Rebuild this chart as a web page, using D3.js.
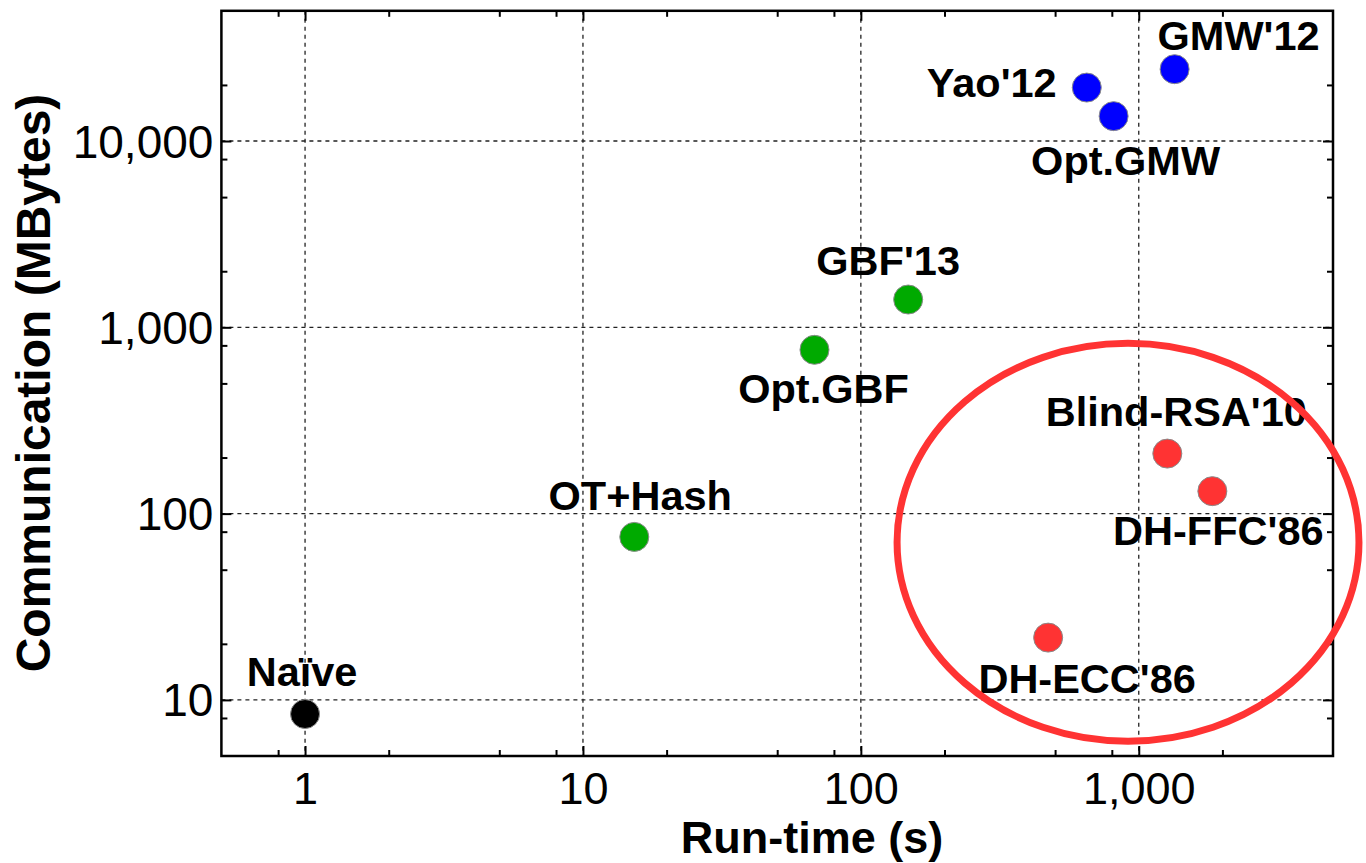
<!DOCTYPE html>
<html>
<head>
<meta charset="utf-8">
<script src="https://cdn.jsdelivr.net/npm/d3@7/dist/d3.min.js"></script>
<style>
  html, body { margin: 0; padding: 0; background: #fff; }
  svg { display: block; }
  text { font-family: "Liberation Sans", Arial, Helvetica, sans-serif; fill: #000; }
</style>
</head>
<body>
<svg id="chart" width="1366" height="863"></svg>
<script>
// ---------------- data ----------------
const names    = ["Naïve", "OT+Hash", "Opt.GBF", "GBF'13", "Yao'12", "Opt.GMW", "GMW'12", "Blind-RSA'10", "DH-FFC'86", "DH-ECC'86"];
const runTime  = [1, 15.3, 68.1, 148, 650, 812, 1346, 1267, 1840, 472];          // seconds
const commMB   = [8.4, 75, 757, 1410, 19360, 13600, 24300, 210, 132, 21.6];     // MBytes
const groups   = ["base", "green", "green", "green", "blue", "blue", "blue", "red", "red", "red"];
const xTicks   = [1, 10, 100, 1000];
const yTicks   = [10, 100, 1000, 10000];
const xDomain  = [0.5, 5000];
const yDomain  = [5, 50000];
// highlighted region (data-space bounds of the red ellipse)
const regionX  = [135, 6200];
const regionY  = [6, 820];

// ---------------- layout / style ----------------
const colors = { base: "#000000", green: "#00aa00", blue: "#0000ff", red: "#ff3333" };
// label offsets relative to each point (pixels), text-anchor middle
const labelOffsets = [[-3, -28], [6, -27], [9, 53], [-20, -25], [-95, 9], [12, 59], [64, -19], [9, -28], [6, 54], [39, 55]];
const plot = { left: 221.4, right: 1333, top: 10.8, bottom: 756 };

const svg = d3.select("#chart");
const x = d3.scaleLog().domain(xDomain).range([plot.left, plot.right]);
const y = d3.scaleLog().domain(yDomain).range([plot.bottom, plot.top]);
const fmt = d3.format(",");

// minor ticks at 2,5,8 of each decade
function minorTicks(domain) {
  const out = [];
  for (let e = -2; e <= 6; e++) {
    [2, 5, 8].forEach(m => {
      const v = m * Math.pow(10, e);
      if (v > domain[0] * 1.0001 && v < domain[1] * 0.9999) out.push(v);
    });
  }
  return out;
}

// grid
const grid = svg.append("g").attr("stroke", "#222").attr("stroke-width", 1.3).attr("stroke-dasharray", "4,4");
grid.selectAll(".gx").data(xTicks).join("line")
  .attr("x1", d => x(d)).attr("x2", d => x(d)).attr("y1", plot.top).attr("y2", plot.bottom);
grid.selectAll(".gy").data(yTicks).join("line")
  .attr("y1", d => y(d)).attr("y2", d => y(d)).attr("x1", plot.left).attr("x2", plot.right);

// axes (ticks inward, mirrored)
const tickStyle = g => g.call(s => s.select(".domain").remove())
  .call(s => s.selectAll(".tick line").attr("stroke", "#000").attr("stroke-width", 2));

svg.append("g").attr("transform", `translate(0,${plot.bottom})`)
  .call(d3.axisBottom(x).tickValues(xTicks).tickSize(-10).tickFormat(fmt))
  .call(tickStyle)
  .call(g => g.selectAll("text").attr("font-size", 45).attr("dy", 0).attr("y", 48).attr("fill", "#000"));
svg.append("g").attr("transform", `translate(0,${plot.bottom})`)
  .call(d3.axisBottom(x).tickValues(minorTicks(xDomain)).tickSize(-6).tickFormat(""))
  .call(tickStyle);
svg.append("g").attr("transform", `translate(0,${plot.top})`)
  .call(d3.axisTop(x).tickValues(xTicks).tickSize(-10).tickFormat(""))
  .call(tickStyle);
svg.append("g").attr("transform", `translate(0,${plot.top})`)
  .call(d3.axisTop(x).tickValues(minorTicks(xDomain)).tickSize(-6).tickFormat(""))
  .call(tickStyle);

svg.append("g").attr("transform", `translate(${plot.left},0)`)
  .call(d3.axisLeft(y).tickValues(yTicks).tickSize(-10).tickFormat(fmt))
  .call(tickStyle)
  .call(g => g.selectAll("text").attr("font-size", 46).attr("x", -8).attr("dy", 0).attr("y", 16).attr("fill", "#000"));
svg.append("g").attr("transform", `translate(${plot.left},0)`)
  .call(d3.axisLeft(y).tickValues(minorTicks(yDomain)).tickSize(-6).tickFormat(""))
  .call(tickStyle);
svg.append("g").attr("transform", `translate(${plot.right},0)`)
  .call(d3.axisRight(y).tickValues(yTicks).tickSize(-10).tickFormat(""))
  .call(tickStyle);
svg.append("g").attr("transform", `translate(${plot.right},0)`)
  .call(d3.axisRight(y).tickValues(minorTicks(yDomain)).tickSize(-6).tickFormat(""))
  .call(tickStyle);

// frame
svg.append("rect")
  .attr("x", plot.left).attr("y", plot.top)
  .attr("width", plot.right - plot.left).attr("height", plot.bottom - plot.top)
  .attr("fill", "none").attr("stroke", "#000").attr("stroke-width", 2.5);

// points
const data = names.map((n, i) => ({ name: n, rt: runTime[i], mb: commMB[i], g: groups[i], off: labelOffsets[i] }));

svg.append("g").selectAll("circle").data(data).join("circle")
  .attr("cx", d => x(d.rt)).attr("cy", d => y(d.mb)).attr("r", 14.5)
  .attr("fill", d => colors[d.g]).attr("stroke", "#8a8a8a").attr("stroke-width", 1);

svg.append("g").selectAll("text").data(data).join("text")
  .attr("x", d => x(d.rt) + d.off[0]).attr("y", d => y(d.mb) + d.off[1])
  .attr("text-anchor", "middle").attr("font-size", 41.5).attr("font-weight", "bold")
  .text(d => d.name);

// highlight ellipse
const ex0 = x(regionX[0]), ex1 = x(regionX[1]), ey0 = y(regionY[1]), ey1 = y(regionY[0]);
svg.append("ellipse")
  .attr("cx", (ex0 + ex1) / 2).attr("cy", (ey0 + ey1) / 2)
  .attr("rx", (ex1 - ex0) / 2).attr("ry", (ey1 - ey0) / 2)
  .attr("fill", "none").attr("stroke", "#ff3333").attr("stroke-width", 7);

// axis titles
svg.append("text")
  .attr("x", 812).attr("y", 853).attr("text-anchor", "middle")
  .attr("font-size", 45).attr("font-weight", "bold").text("Run-time (s)");
svg.append("text")
  .attr("transform", "translate(50,383) rotate(-90)").attr("text-anchor", "middle")
  .attr("font-size", 48).attr("font-weight", "bold").text("Communication (MBytes)");
</script>
</body>
</html>
